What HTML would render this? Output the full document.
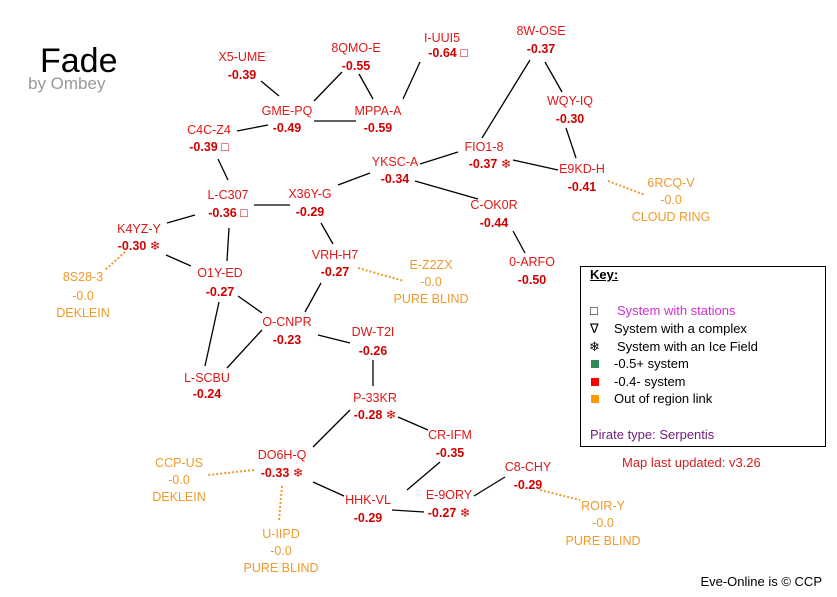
<!DOCTYPE html>
<html><head><meta charset="utf-8"><style>
body{margin:0;width:837px;height:597px;background:#fff;position:relative;overflow:hidden;font-family:"Liberation Sans","DejaVu Sans",sans-serif}
.t{position:absolute;transform:translate(-50%,-50%);white-space:nowrap;font-size:12.5px;line-height:14px}
.n{color:#e01818}
.v{color:#d00000;font-weight:bold}
.o{color:#f09a2a}
svg{position:absolute;left:0;top:0}
.k{position:absolute;font-size:13px;white-space:nowrap}
</style></head><body>
<svg width="837" height="597">
<g stroke="#000" stroke-width="1.3">
<line x1="261" y1="81" x2="279" y2="96"/>
<line x1="342" y1="72" x2="314" y2="101"/>
<line x1="359" y1="74" x2="373" y2="99"/>
<line x1="420" y1="62" x2="403" y2="99"/>
<line x1="314" y1="121" x2="356" y2="121"/>
<line x1="237" y1="131" x2="268" y2="125"/>
<line x1="218" y1="159" x2="228" y2="180"/>
<line x1="254" y1="205" x2="290" y2="205"/>
<line x1="338" y1="185" x2="370" y2="173"/>
<line x1="420" y1="164" x2="458" y2="152"/>
<line x1="530" y1="60" x2="482" y2="138"/>
<line x1="545" y1="62" x2="562" y2="92"/>
<line x1="566" y1="128" x2="576" y2="158"/>
<line x1="513" y1="160" x2="558" y2="170"/>
<line x1="415" y1="181" x2="478" y2="199"/>
<line x1="513" y1="231" x2="525" y2="253"/>
<line x1="167" y1="223" x2="195" y2="215"/>
<line x1="229" y1="228" x2="227" y2="261"/>
<line x1="166" y1="255" x2="191" y2="266"/>
<line x1="321" y1="223" x2="333" y2="244"/>
<line x1="321" y1="283" x2="305" y2="312"/>
<line x1="238" y1="296" x2="262" y2="313"/>
<line x1="219" y1="302" x2="205" y2="366"/>
<line x1="227" y1="368" x2="262" y2="330"/>
<line x1="318" y1="335" x2="350" y2="343"/>
<line x1="373" y1="360" x2="373" y2="386"/>
<line x1="398" y1="417" x2="428" y2="430"/>
<line x1="350" y1="410" x2="313" y2="447"/>
<line x1="313" y1="482" x2="344" y2="496"/>
<line x1="392" y1="510" x2="424" y2="512"/>
<line x1="440" y1="462" x2="407" y2="490"/>
<line x1="474" y1="496" x2="505" y2="477"/>
</g>
<g stroke="#f09a2a" stroke-width="2" stroke-dasharray="2,2">
<line x1="125" y1="252" x2="105" y2="270"/>
<line x1="358" y1="268" x2="404" y2="281"/>
<line x1="608" y1="181" x2="645" y2="195"/>
<line x1="254" y1="470" x2="208" y2="475"/>
<line x1="282" y1="486" x2="279" y2="520"/>
<line x1="540" y1="490" x2="580" y2="500"/>
</g>
<rect x="580.5" y="266.5" width="245" height="180" fill="none" stroke="#000" stroke-width="1"/>
</svg>
<div style="position:absolute;left:40px;top:42px;font-size:34px;color:#000">Fade</div>
<div style="position:absolute;left:28px;top:74px;font-size:17px;color:#999">by Ombey</div>

<div class="t n" style="left:242px;top:57px">X5-UME</div><div class="t v" style="left:242px;top:75px">-0.39</div>
<div class="t n" style="left:356px;top:48px">8QMO-E</div><div class="t v" style="left:356px;top:66px">-0.55</div>
<div class="t n" style="left:442px;top:38px">I-UUI5</div><div class="t v" style="left:448px;top:53px">-0.64 □</div>
<div class="t n" style="left:541px;top:31px">8W-OSE</div><div class="t v" style="left:541px;top:49px">-0.37</div>
<div class="t n" style="left:287px;top:111px">GME-PQ</div><div class="t v" style="left:287px;top:128px">-0.49</div>
<div class="t n" style="left:378px;top:111px">MPPA-A</div><div class="t v" style="left:378px;top:128px">-0.59</div>
<div class="t n" style="left:570px;top:101px">WQY-IQ</div><div class="t v" style="left:570px;top:119px">-0.30</div>
<div class="t n" style="left:209px;top:130px">C4C-Z4</div><div class="t v" style="left:209px;top:147px">-0.39 □</div>
<div class="t n" style="left:484px;top:147px">FIO1-8</div><div class="t v" style="left:490px;top:164px">-0.37 ❄</div>
<div class="t n" style="left:395px;top:162px">YKSC-A</div><div class="t v" style="left:395px;top:179px">-0.34</div>
<div class="t n" style="left:582px;top:169px">E9KD-H</div><div class="t v" style="left:582px;top:187px">-0.41</div>
<div class="t o" style="left:671px;top:183px">6RCQ-V</div><div class="t o" style="left:671px;top:200px">-0.0</div><div class="t o" style="left:671px;top:217px">CLOUD RING</div>
<div class="t n" style="left:228px;top:195px">L-C307</div><div class="t v" style="left:228px;top:213px">-0.36 □</div>
<div class="t n" style="left:310px;top:194px">X36Y-G</div><div class="t v" style="left:310px;top:212px">-0.29</div>
<div class="t n" style="left:494px;top:205px">C-OK0R</div><div class="t v" style="left:494px;top:223px">-0.44</div>
<div class="t n" style="left:139px;top:229px">K4YZ-Y</div><div class="t v" style="left:139px;top:246px">-0.30 ❄</div>
<div class="t n" style="left:335px;top:255px">VRH-H7</div><div class="t v" style="left:335px;top:272px">-0.27</div>
<div class="t o" style="left:431px;top:265px">E-Z2ZX</div><div class="t o" style="left:431px;top:282px">-0.0</div><div class="t o" style="left:431px;top:299px">PURE BLIND</div>
<div class="t n" style="left:532px;top:262px">0-ARFO</div><div class="t v" style="left:532px;top:280px">-0.50</div>
<div class="t o" style="left:83px;top:277px">8S28-3</div><div class="t o" style="left:83px;top:296px">-0.0</div><div class="t o" style="left:83px;top:313px">DEKLEIN</div>
<div class="t n" style="left:220px;top:273px">O1Y-ED</div><div class="t v" style="left:220px;top:292px">-0.27</div>
<div class="t n" style="left:287px;top:322px">O-CNPR</div><div class="t v" style="left:287px;top:340px">-0.23</div>
<div class="t n" style="left:373px;top:332px">DW-T2I</div><div class="t v" style="left:373px;top:351px">-0.26</div>
<div class="t n" style="left:207px;top:378px">L-SCBU</div><div class="t v" style="left:207px;top:394px">-0.24</div>
<div class="t n" style="left:375px;top:398px">P-33KR</div><div class="t v" style="left:375px;top:415px">-0.28 ❄</div>
<div class="t n" style="left:450px;top:435px">CR-IFM</div><div class="t v" style="left:450px;top:453px">-0.35</div>
<div class="t o" style="left:179px;top:463px">CCP-US</div><div class="t o" style="left:179px;top:480px">-0.0</div><div class="t o" style="left:179px;top:497px">DEKLEIN</div>
<div class="t n" style="left:282px;top:455px">DO6H-Q</div><div class="t v" style="left:282px;top:473px">-0.33 ❄</div>
<div class="t n" style="left:528px;top:467px">C8-CHY</div><div class="t v" style="left:528px;top:485px">-0.29</div>
<div class="t n" style="left:368px;top:500px">HHK-VL</div><div class="t v" style="left:368px;top:518px">-0.29</div>
<div class="t n" style="left:449px;top:495px">E-9ORY</div><div class="t v" style="left:449px;top:513px">-0.27 ❄</div>
<div class="t o" style="left:603px;top:506px">ROIR-Y</div><div class="t o" style="left:603px;top:523px">-0.0</div><div class="t o" style="left:603px;top:541px">PURE BLIND</div>
<div class="t o" style="left:281px;top:534px">U-IIPD</div><div class="t o" style="left:281px;top:551px">-0.0</div><div class="t o" style="left:281px;top:568px">PURE BLIND</div>

<div class="k" style="left:590px;top:267px;font-weight:bold;text-decoration:underline">Key:</div>
<div class="k" style="left:590px;top:303px">□</div><div class="k" style="left:617px;top:303px;color:#d030d0">System with stations</div>
<div class="k" style="left:590px;top:321px">∇</div><div class="k" style="left:614px;top:321px">System with a complex</div>
<div class="k" style="left:589px;top:339px">❄</div><div class="k" style="left:617px;top:339px">System with an Ice Field</div>
<div style="position:absolute;left:591px;top:360px;width:8px;height:8px;background:#2e8b57"></div><div class="k" style="left:614px;top:356px">-0.5+ system</div>
<div style="position:absolute;left:591px;top:378px;width:8px;height:8px;background:#f00"></div><div class="k" style="left:614px;top:374px">-0.4- system</div>
<div style="position:absolute;left:591px;top:395px;width:8px;height:8px;background:#f90"></div><div class="k" style="left:614px;top:391px">Out of region link</div>
<div class="k" style="left:590px;top:427px;color:#70207a">Pirate type: Serpentis</div>
<div class="k" style="left:622px;top:455px;color:#d02020">Map last updated: v3.26</div>
<div class="k" style="right:15px;top:574px;color:#000">Eve-Online is © CCP</div>
</body></html>
